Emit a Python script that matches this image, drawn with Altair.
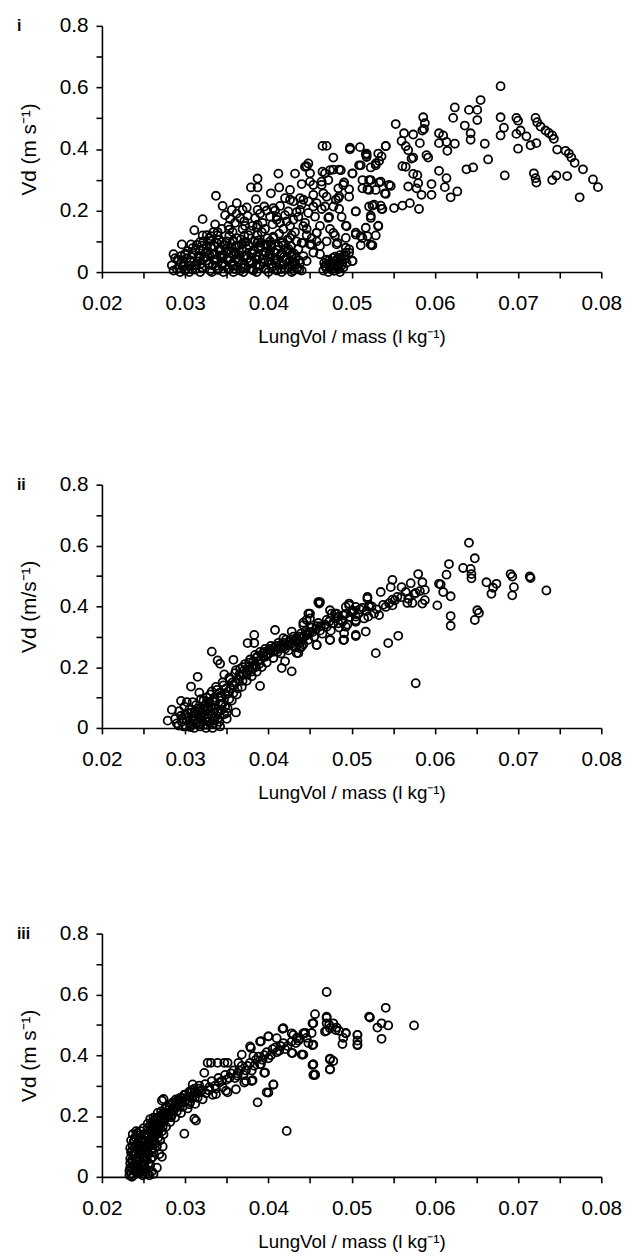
import altair as alt
import pandas as pd

# ---- data ----
panel_labels = ["i", "ii", "iii"]
y_titles = ["Vd (m s⁻¹)", "Vd (m/s⁻¹)", "Vd (m s⁻¹)"]
x_title = "LungVol / mass (l kg⁻¹)"
x_ticks = [0.02, 0.025, 0.03, 0.035, 0.04, 0.045, 0.05, 0.055, 0.06, 0.065, 0.07, 0.075, 0.08]
y_ticks = [0.0, 0.1, 0.2, 0.3, 0.4, 0.5, 0.6, 0.7, 0.8]

pts_i = [
    (0.0679, 0.604), (0.0655, 0.559), (0.0651, 0.527), (0.0651, 0.494), (0.0641, 0.527),
    (0.0624, 0.535), (0.0622, 0.501), (0.0636, 0.476), (0.0643, 0.451), (0.0643, 0.430),
    (0.0660, 0.417), (0.0664, 0.366), (0.0646, 0.340), (0.0638, 0.334), (0.0679, 0.503),
    (0.0679, 0.444), (0.0683, 0.469), (0.0684, 0.314), (0.0698, 0.501), (0.0700, 0.492),
    (0.0698, 0.449), (0.0703, 0.460), (0.0710, 0.441), (0.0715, 0.412), (0.0722, 0.419),
    (0.0700, 0.401), (0.0721, 0.501), (0.0723, 0.487), (0.0727, 0.473), (0.0733, 0.460),
    (0.0737, 0.452), (0.0741, 0.444), (0.0743, 0.433), (0.0747, 0.398), (0.0757, 0.394),
    (0.0761, 0.385), (0.0764, 0.372), (0.0768, 0.355), (0.0778, 0.334), (0.0790, 0.301),
    (0.0796, 0.276), (0.0774, 0.243), (0.0759, 0.312), (0.0746, 0.314), (0.0741, 0.299),
    (0.0719, 0.321), (0.0721, 0.305), (0.0722, 0.291), (0.0553, 0.481), (0.0563, 0.451),
    (0.0560, 0.426), (0.0565, 0.409), (0.0568, 0.396), (0.0574, 0.372), (0.0572, 0.369),
    (0.0561, 0.344), (0.0565, 0.342), (0.0574, 0.447), (0.0582, 0.419), (0.0586, 0.503),
    (0.0588, 0.484), (0.0587, 0.465), (0.0585, 0.460), (0.0590, 0.380), (0.0592, 0.372),
    (0.0574, 0.319), (0.0579, 0.315), (0.0580, 0.289), (0.0568, 0.278), (0.0578, 0.272),
    (0.0584, 0.251), (0.0596, 0.286), (0.0596, 0.251), (0.0605, 0.451), (0.0610, 0.444),
    (0.0605, 0.419), (0.0614, 0.423), (0.0624, 0.417), (0.0615, 0.394), (0.0605, 0.329),
    (0.0614, 0.305), (0.0612, 0.276), (0.0619, 0.243), (0.0627, 0.262), (0.0581, 0.205),
    (0.0570, 0.224), (0.0561, 0.216), (0.0551, 0.208), (0.0541, 0.409), (0.0536, 0.376),
    (0.0533, 0.361), (0.0529, 0.347), (0.0523, 0.340), (0.0518, 0.380), (0.0521, 0.299),
    (0.0533, 0.291), (0.0545, 0.283), (0.0541, 0.254), (0.0529, 0.267), (0.0525, 0.216),
    (0.0535, 0.216), (0.0537, 0.205), (0.0523, 0.183), (0.0532, 0.151), (0.0529, 0.119),
    (0.0524, 0.087), (0.0519, 0.117),
    (0.0465, 0.410), (0.0470, 0.410), (0.0478, 0.372), (0.0498, 0.399), (0.0510, 0.406),
    (0.0517, 0.383), (0.0518, 0.374), (0.0532, 0.385), (0.0541, 0.410), (0.0529, 0.353),
    (0.0509, 0.347), (0.0487, 0.331), (0.0478, 0.333), (0.0468, 0.321), (0.0448, 0.353),
    (0.0444, 0.342), (0.0450, 0.321), (0.0464, 0.294), (0.0454, 0.283), (0.0491, 0.291),
    (0.0501, 0.321), (0.0513, 0.299), (0.0523, 0.299), (0.0535, 0.294), (0.0547, 0.280),
    (0.0497, 0.269), (0.0519, 0.269), (0.0540, 0.256), (0.0485, 0.246), (0.0481, 0.235),
    (0.0466, 0.256), (0.0458, 0.224), (0.0442, 0.235), (0.0448, 0.192), (0.0464, 0.205),
    (0.0485, 0.205), (0.0505, 0.197), (0.0527, 0.219), (0.0536, 0.205), (0.0523, 0.176),
    (0.0532, 0.149), (0.0517, 0.144), (0.0472, 0.176), (0.0493, 0.151), (0.0458, 0.128),
    (0.0480, 0.119), (0.0505, 0.128), (0.0511, 0.117), (0.0525, 0.087), (0.0511, 0.087),
    (0.0493, 0.111), (0.0442, 0.095), (0.0452, 0.090), (0.0483, 0.095), (0.0493, 0.079),
    (0.0497, 0.063), (0.0501, 0.036), (0.0446, 0.036), (0.0462, 0.058), (0.0468, 0.020),
    (0.0472, 0.026), (0.0476, 0.031), (0.0480, 0.036), (0.0483, 0.042), (0.0487, 0.047),
    (0.0478, 0.018), (0.0482, 0.020), (0.0485, 0.026), (0.0489, 0.031), (0.0474, 0.015),
    (0.0470, 0.012), (0.0491, 0.053), (0.0493, 0.063), (0.0476, 0.008), (0.0484, 0.010),
    (0.0498, 0.404), (0.0518, 0.385), (0.0446, 0.344), (0.0465, 0.326), (0.0474, 0.331),
    (0.0485, 0.333), (0.0501, 0.320), (0.0511, 0.347), (0.0513, 0.272), (0.0521, 0.267),
    (0.0412, 0.320), (0.0432, 0.320), (0.0387, 0.304), (0.0379, 0.275), (0.0387, 0.275),
    (0.0413, 0.275), (0.0426, 0.267), (0.0440, 0.286), (0.0450, 0.294), (0.0464, 0.283),
    (0.0472, 0.299), (0.0484, 0.272), (0.0490, 0.283), (0.0497, 0.245), (0.0484, 0.240),
    (0.0470, 0.245), (0.0454, 0.251), (0.0438, 0.240), (0.0426, 0.235), (0.0403, 0.256),
    (0.0385, 0.237), (0.0362, 0.224), (0.0337, 0.248), (0.0345, 0.215), (0.0356, 0.202),
    (0.0369, 0.202), (0.0375, 0.183), (0.0387, 0.202), (0.0395, 0.213), (0.0406, 0.208),
    (0.0424, 0.197), (0.0438, 0.202), (0.0454, 0.213), (0.0468, 0.213), (0.0478, 0.213),
    (0.0505, 0.197), (0.0473, 0.179), (0.0488, 0.179), (0.0521, 0.213), (0.0354, 0.172),
    (0.0321, 0.172), (0.0311, 0.136), (0.0321, 0.119), (0.0339, 0.130), (0.0353, 0.138),
    (0.0371, 0.165), (0.0387, 0.154), (0.0410, 0.170), (0.0430, 0.170), (0.0442, 0.149),
    (0.0458, 0.127), (0.0478, 0.127), (0.0494, 0.149), (0.0505, 0.122), (0.0513, 0.111),
    (0.0523, 0.090), (0.0296, 0.090), (0.0307, 0.090), (0.0286, 0.058), (0.0284, 0.022),
    (0.0295, 0.052), (0.0331, 0.117), (0.0367, 0.106), (0.0387, 0.095), (0.0406, 0.111),
    (0.0426, 0.111), (0.0440, 0.095), (0.0450, 0.090), (0.0462, 0.085), (0.0482, 0.090),
    (0.0497, 0.074), (0.0501, 0.036), (0.0454, 0.063), (0.0442, 0.052), (0.0426, 0.063),
    (0.0290, 0.010), (0.0295, 0.030), (0.0300, 0.005), (0.0302, 0.045), (0.0305, 0.020),
    (0.0310, 0.060), (0.0312, 0.008), (0.0315, 0.035), (0.0318, 0.070), (0.0320, 0.015),
    (0.0323, 0.050), (0.0326, 0.085), (0.0328, 0.025), (0.0330, 0.005), (0.0332, 0.060),
    (0.0335, 0.040), (0.0338, 0.095), (0.0340, 0.012), (0.0342, 0.075), (0.0345, 0.030),
    (0.0347, 0.055), (0.0350, 0.100), (0.0352, 0.008), (0.0354, 0.045), (0.0356, 0.080),
    (0.0358, 0.020), (0.0360, 0.065), (0.0362, 0.110), (0.0364, 0.035), (0.0366, 0.005),
    (0.0368, 0.090), (0.0370, 0.050), (0.0372, 0.015), (0.0374, 0.075), (0.0376, 0.120),
    (0.0378, 0.030), (0.0380, 0.060), (0.0382, 0.005), (0.0384, 0.100), (0.0386, 0.040),
    (0.0388, 0.080), (0.0390, 0.020), (0.0392, 0.130), (0.0394, 0.055), (0.0396, 0.010),
    (0.0398, 0.090), (0.0400, 0.035), (0.0402, 0.070), (0.0404, 0.015), (0.0406, 0.115),
    (0.0408, 0.045), (0.0410, 0.005), (0.0412, 0.085), (0.0414, 0.025), (0.0416, 0.060),
    (0.0418, 0.140), (0.0420, 0.010), (0.0422, 0.040), (0.0424, 0.075), (0.0426, 0.020),
    (0.0428, 0.050), (0.0430, 0.005), (0.0432, 0.030), (0.0435, 0.015), (0.0337, 0.020),
    (0.0349, 0.068), (0.0361, 0.042), (0.0373, 0.098), (0.0385, 0.022), (0.0397, 0.062),
    (0.0409, 0.028), (0.0357, 0.130), (0.0369, 0.140), (0.0381, 0.150), (0.0393, 0.160),
    (0.0405, 0.155), (0.0353, 0.118), (0.0341, 0.105), (0.0329, 0.110),
    (0.0292, 0.038), (0.0297, 0.018), (0.0303, 0.068), (0.0307, 0.032), (0.0311, 0.022),
    (0.0314, 0.088), (0.0317, 0.048), (0.0319, 0.028), (0.0322, 0.100), (0.0325, 0.065),
    (0.0327, 0.038), (0.0331, 0.082), (0.0333, 0.022), (0.0336, 0.058), (0.0339, 0.120),
    (0.0343, 0.045), (0.0346, 0.088), (0.0348, 0.020), (0.0351, 0.038), (0.0355, 0.062),
    (0.0357, 0.100), (0.0359, 0.010), (0.0363, 0.085), (0.0365, 0.055), (0.0367, 0.025),
    (0.0371, 0.118), (0.0375, 0.045), (0.0377, 0.085), (0.0379, 0.010), (0.0383, 0.070),
    (0.0387, 0.120), (0.0389, 0.050), (0.0391, 0.095), (0.0395, 0.030), (0.0399, 0.110),
    (0.0401, 0.050), (0.0403, 0.090), (0.0407, 0.065), (0.0411, 0.040), (0.0413, 0.125),
    (0.0415, 0.010), (0.0417, 0.095), (0.0419, 0.050), (0.0421, 0.075), (0.0423, 0.105),
    (0.0425, 0.035), (0.0427, 0.085), (0.0429, 0.020), (0.0431, 0.060), (0.0433, 0.045),
    (0.0436, 0.075), (0.0438, 0.030), (0.0440, 0.005), (0.0344, 0.140), (0.0352, 0.150),
    (0.0360, 0.160), (0.0366, 0.175), (0.0372, 0.150), (0.0378, 0.135), (0.0384, 0.175),
    (0.0390, 0.190), (0.0396, 0.140), (0.0402, 0.180), (0.0408, 0.200), (0.0414, 0.160),
    (0.0420, 0.185), (0.0426, 0.150), (0.0432, 0.130), (0.0414, 0.215), (0.0420, 0.240),
    (0.0430, 0.230), (0.0436, 0.180), (0.0444, 0.160), (0.0446, 0.120), (0.0448, 0.230),
    (0.0456, 0.180), (0.0462, 0.150), (0.0470, 0.100), (0.0474, 0.140), (0.0334, 0.130),
    (0.0326, 0.120), (0.0318, 0.098), (0.0309, 0.078), (0.0300, 0.060), (0.0288, 0.045),
    (0.0286, 0.005), (0.0294, 0.000), (0.0305, 0.000), (0.0318, 0.000), (0.0332, 0.000),
    (0.0346, 0.000), (0.0358, 0.000), (0.0370, 0.000), (0.0386, 0.000), (0.0400, 0.000),
    (0.0416, 0.000), (0.0428, 0.000), (0.0437, 0.008), (0.0466, 0.005), (0.0472, 0.000),
    (0.0479, 0.004), (0.0486, 0.000), (0.0490, 0.015), (0.0494, 0.030), (0.0488, 0.040),
    (0.0481, 0.028), (0.0473, 0.038), (0.0467, 0.030),
    (0.0293, 0.012), (0.0308, 0.009), (0.0321, 0.013), (0.0339, 0.007), (0.0353, 0.011),
    (0.0369, 0.014), (0.0381, 0.008), (0.0397, 0.012), (0.0411, 0.009), (0.0424, 0.013),
    (0.0434, 0.010), (0.0298, 0.026), (0.0313, 0.023), (0.0329, 0.027), (0.0344, 0.024),
    (0.0357, 0.028), (0.0371, 0.025), (0.0389, 0.022), (0.0403, 0.027), (0.0418, 0.024),
    (0.0431, 0.026), (0.0291, 0.041), (0.0306, 0.038), (0.0322, 0.042), (0.0338, 0.039),
    (0.0350, 0.043), (0.0365, 0.040), (0.0379, 0.037), (0.0393, 0.042), (0.0407, 0.039),
    (0.0420, 0.041), (0.0437, 0.038), (0.0300, 0.056), (0.0316, 0.053), (0.0329, 0.057),
    (0.0343, 0.054), (0.0358, 0.058), (0.0373, 0.055), (0.0386, 0.052), (0.0401, 0.057),
    (0.0414, 0.054), (0.0428, 0.056), (0.0312, 0.071), (0.0327, 0.068), (0.0341, 0.072),
    (0.0353, 0.069), (0.0368, 0.073), (0.0382, 0.070), (0.0396, 0.067), (0.0410, 0.072),
    (0.0423, 0.069), (0.0320, 0.086), (0.0335, 0.083), (0.0348, 0.087), (0.0361, 0.084),
    (0.0376, 0.088), (0.0390, 0.085), (0.0404, 0.082), (0.0418, 0.087), (0.0330, 0.101),
    (0.0344, 0.098), (0.0358, 0.102), (0.0372, 0.099), (0.0388, 0.103), (0.0402, 0.100),
    (0.0416, 0.097), (0.0469, 0.018), (0.0475, 0.022), (0.0483, 0.015), (0.0488, 0.022),
    (0.0477, 0.045), (0.0470, 0.040), (0.0492, 0.042), (0.0486, 0.055), (0.0480, 0.050),
    (0.0336, 0.155), (0.0348, 0.185), (0.0362, 0.190), (0.0374, 0.210), (0.0386, 0.145),
    (0.0398, 0.200), (0.0410, 0.180), (0.0422, 0.165), (0.0434, 0.195), (0.0440, 0.220),
    (0.0428, 0.120), (0.0446, 0.140), (0.0452, 0.110), (0.0458, 0.100), (0.0434, 0.100),
]

pts_ii = [
    (0.0641, 0.609), (0.0648, 0.558), (0.0617, 0.539), (0.0614, 0.504), (0.0634, 0.526),
    (0.0643, 0.523), (0.0644, 0.506), (0.0644, 0.492), (0.0662, 0.479), (0.0674, 0.474),
    (0.0670, 0.461), (0.0668, 0.441), (0.0691, 0.506), (0.0693, 0.498), (0.0695, 0.463),
    (0.0693, 0.436), (0.0714, 0.498), (0.0715, 0.493), (0.0734, 0.452), (0.0651, 0.387),
    (0.0653, 0.378), (0.0648, 0.355), (0.0619, 0.433), (0.0619, 0.368), (0.0619, 0.336),
    (0.0603, 0.403), (0.0607, 0.472), (0.0605, 0.474), (0.0610, 0.447), (0.0580, 0.506),
    (0.0585, 0.479), (0.0588, 0.454), (0.0588, 0.420), (0.0585, 0.409), (0.0577, 0.444),
    (0.0573, 0.411), (0.0571, 0.476), (0.0565, 0.447), (0.0567, 0.411), (0.0560, 0.463),
    (0.0555, 0.431), (0.0549, 0.487), (0.0547, 0.463), (0.0549, 0.422), (0.0549, 0.403),
    (0.0535, 0.447), (0.0541, 0.398), (0.0533, 0.371), (0.0527, 0.376), (0.0521, 0.403),
    (0.0519, 0.431), (0.0520, 0.366), (0.0517, 0.317), (0.0505, 0.398), (0.0505, 0.366),
    (0.0505, 0.349), (0.0505, 0.306), (0.0497, 0.409), (0.0493, 0.398), (0.0501, 0.382),
    (0.0491, 0.311), (0.0491, 0.290), (0.0489, 0.349), (0.0482, 0.376), (0.0476, 0.376),
    (0.0478, 0.344), (0.0474, 0.290), (0.0470, 0.333), (0.0461, 0.409), (0.0460, 0.414),
    (0.0458, 0.327), (0.0458, 0.273), (0.0450, 0.376), (0.0446, 0.355), (0.0442, 0.346),
    (0.0442, 0.300), (0.0440, 0.268), (0.0436, 0.246), (0.0529, 0.246), (0.0544, 0.279),
    (0.0556, 0.303), (0.0577, 0.147),
    (0.0462, 0.414), (0.0408, 0.322), (0.0383, 0.306), (0.0375, 0.279), (0.0383, 0.279),
    (0.0428, 0.317), (0.0418, 0.295), (0.0416, 0.197), (0.0428, 0.186), (0.0420, 0.219),
    (0.0332, 0.251), (0.0339, 0.222), (0.0342, 0.211), (0.0358, 0.224), (0.0315, 0.168),
    (0.0307, 0.136), (0.0317, 0.116), (0.0295, 0.089), (0.0284, 0.060), (0.0279, 0.024),
    (0.0361, 0.051), (0.0390, 0.138), (0.0347, 0.176), (0.0442, 0.338), (0.0448, 0.376),
    (0.0450, 0.360), (0.0474, 0.387), (0.0480, 0.376), (0.0484, 0.344), (0.0490, 0.289),
    (0.0474, 0.289), (0.0505, 0.302), (0.0519, 0.425), (0.0521, 0.398), (0.0497, 0.403),
    (0.0505, 0.354), (0.0493, 0.333), (0.0458, 0.273), (0.0438, 0.262), (0.0434, 0.246),
    (0.0290, 0.015), (0.0295, 0.040), (0.0298, 0.005), (0.0302, 0.025), (0.0305, 0.060),
    (0.0308, 0.010), (0.0310, 0.040), (0.0313, 0.075), (0.0315, 0.020), (0.0318, 0.005),
    (0.0320, 0.050), (0.0322, 0.090), (0.0324, 0.030), (0.0326, 0.010), (0.0328, 0.065),
    (0.0330, 0.110), (0.0332, 0.040), (0.0334, 0.015), (0.0336, 0.085), (0.0338, 0.125),
    (0.0340, 0.055), (0.0342, 0.005), (0.0344, 0.100), (0.0346, 0.140), (0.0348, 0.070),
    (0.0350, 0.030), (0.0352, 0.120), (0.0354, 0.160), (0.0356, 0.090), (0.0358, 0.140),
    (0.0360, 0.180), (0.0362, 0.110), (0.0364, 0.160), (0.0366, 0.195), (0.0368, 0.135),
    (0.0370, 0.175), (0.0372, 0.210), (0.0374, 0.155), (0.0376, 0.190), (0.0378, 0.225),
    (0.0380, 0.170), (0.0382, 0.205), (0.0384, 0.240), (0.0386, 0.185), (0.0388, 0.220),
    (0.0390, 0.250), (0.0392, 0.200), (0.0394, 0.235), (0.0396, 0.260), (0.0398, 0.215),
    (0.0400, 0.245), (0.0403, 0.270), (0.0406, 0.230), (0.0409, 0.255), (0.0412, 0.280),
    (0.0415, 0.245), (0.0418, 0.265), (0.0421, 0.290), (0.0424, 0.255), (0.0427, 0.275),
    (0.0430, 0.300), (0.0433, 0.265), (0.0436, 0.285), (0.0439, 0.310), (0.0442, 0.275),
    (0.0445, 0.320), (0.0448, 0.290), (0.0452, 0.330), (0.0455, 0.300), (0.0460, 0.345),
    (0.0465, 0.310), (0.0470, 0.355), (0.0475, 0.320), (0.0480, 0.360), (0.0485, 0.330),
    (0.0490, 0.370), (0.0495, 0.340), (0.0500, 0.380), (0.0510, 0.390), (0.0515, 0.360),
    (0.0300, 0.045), (0.0306, 0.015), (0.0312, 0.055), (0.0316, 0.035), (0.0321, 0.020),
    (0.0327, 0.045), (0.0331, 0.070), (0.0335, 0.025), (0.0339, 0.050), (0.0343, 0.080),
    (0.0347, 0.045), (0.0351, 0.065), (0.0333, 0.000), (0.0325, 0.000), (0.0341, 0.020),
    (0.0288, 0.030), (0.0293, 0.055), (0.0296, 0.020), (0.0299, 0.070), (0.0301, 0.005),
    (0.0304, 0.035), (0.0307, 0.050), (0.0309, 0.085), (0.0311, 0.000), (0.0314, 0.045),
    (0.0317, 0.060), (0.0319, 0.095), (0.0323, 0.070), (0.0326, 0.100), (0.0329, 0.085),
    (0.0332, 0.120), (0.0335, 0.100), (0.0337, 0.135), (0.0341, 0.115), (0.0345, 0.150),
    (0.0349, 0.130), (0.0353, 0.165), (0.0357, 0.150), (0.0361, 0.190), (0.0365, 0.175),
    (0.0369, 0.200), (0.0373, 0.185), (0.0377, 0.215), (0.0381, 0.195), (0.0385, 0.230),
    (0.0389, 0.210), (0.0393, 0.245), (0.0397, 0.235), (0.0401, 0.260), (0.0405, 0.250),
    (0.0410, 0.270), (0.0414, 0.262), (0.0419, 0.280), (0.0423, 0.272), (0.0428, 0.290),
    (0.0432, 0.285), (0.0437, 0.300), (0.0441, 0.295), (0.0446, 0.305), (0.0450, 0.315),
    (0.0457, 0.325), (0.0463, 0.335), (0.0468, 0.340), (0.0473, 0.350), (0.0478, 0.345),
    (0.0483, 0.365), (0.0488, 0.355), (0.0493, 0.375), (0.0498, 0.365), (0.0503, 0.385),
    (0.0508, 0.375), (0.0513, 0.395), (0.0518, 0.385), (0.0524, 0.400), (0.0530, 0.390),
    (0.0538, 0.405), (0.0545, 0.410), (0.0552, 0.420), (0.0560, 0.430), (0.0568, 0.425),
    (0.0575, 0.440), (0.0582, 0.450), (0.0320, 0.035), (0.0328, 0.020), (0.0336, 0.035),
    (0.0344, 0.060), (0.0338, 0.010), (0.0312, 0.025), (0.0302, 0.085), (0.0324, 0.060),
    (0.0334, 0.050),
    (0.0292, 0.008), (0.0297, 0.028), (0.0303, 0.048), (0.0306, 0.003), (0.0309, 0.025),
    (0.0313, 0.012), (0.0316, 0.065), (0.0319, 0.040), (0.0322, 0.010), (0.0325, 0.080),
    (0.0327, 0.030), (0.0330, 0.055), (0.0333, 0.090), (0.0336, 0.065), (0.0339, 0.030),
    (0.0342, 0.105), (0.0345, 0.080), (0.0348, 0.110), (0.0350, 0.050), (0.0353, 0.095),
    (0.0355, 0.130), (0.0358, 0.115), (0.0361, 0.150), (0.0363, 0.130), (0.0366, 0.170),
    (0.0369, 0.155), (0.0371, 0.190), (0.0374, 0.175), (0.0377, 0.200), (0.0379, 0.185),
    (0.0382, 0.220), (0.0385, 0.200), (0.0387, 0.235), (0.0391, 0.225), (0.0395, 0.250),
    (0.0399, 0.240), (0.0403, 0.255), (0.0407, 0.265), (0.0411, 0.250), (0.0416, 0.275),
    (0.0420, 0.260), (0.0425, 0.285), (0.0429, 0.270), (0.0434, 0.295), (0.0438, 0.280),
    (0.0443, 0.300), (0.0447, 0.310), (0.0453, 0.315), (0.0458, 0.335), (0.0462, 0.320),
]

pts_iii = [
    (0.0470, 0.608), (0.0541, 0.556), (0.0522, 0.524), (0.0456, 0.535), (0.0453, 0.505),
    (0.0470, 0.527), (0.0470, 0.505), (0.0468, 0.478), (0.0474, 0.489), (0.0478, 0.505),
    (0.0482, 0.491), (0.0485, 0.480), (0.0493, 0.473), (0.0490, 0.457), (0.0489, 0.437),
    (0.0507, 0.467), (0.0507, 0.448), (0.0507, 0.433), (0.0531, 0.491), (0.0536, 0.505),
    (0.0544, 0.498), (0.0536, 0.454), (0.0575, 0.498), (0.0444, 0.473), (0.0446, 0.457),
    (0.0434, 0.457), (0.0440, 0.402), (0.0453, 0.433), (0.0448, 0.440), (0.0453, 0.368),
    (0.0456, 0.335), (0.0474, 0.389), (0.0478, 0.381), (0.0474, 0.354),
    (0.0454, 0.505), (0.0452, 0.473), (0.0454, 0.370), (0.0454, 0.335), (0.0442, 0.402),
    (0.0418, 0.489), (0.0430, 0.467), (0.0444, 0.473), (0.0436, 0.448), (0.0428, 0.408),
    (0.0422, 0.151), (0.0406, 0.303), (0.0398, 0.278), (0.0387, 0.245), (0.0396, 0.343),
    (0.0391, 0.370), (0.0400, 0.462), (0.0391, 0.446), (0.0379, 0.424), (0.0381, 0.318),
    (0.0371, 0.310), (0.0363, 0.332), (0.0351, 0.278), (0.0347, 0.375), (0.0339, 0.375),
    (0.0327, 0.375), (0.0299, 0.142), (0.0313, 0.185), (0.0272, 0.251), (0.0272, 0.066),
    (0.0242, 0.137), (0.0260, 0.018),
    (0.0470, 0.523), (0.0470, 0.480), (0.0473, 0.500), (0.0481, 0.483), (0.0493, 0.472),
    (0.0507, 0.467), (0.0507, 0.435), (0.0521, 0.527), (0.0417, 0.487), (0.0428, 0.472),
    (0.0442, 0.472), (0.0454, 0.435), (0.0441, 0.402), (0.0474, 0.386), (0.0474, 0.353),
    (0.0454, 0.370), (0.0456, 0.337), (0.0400, 0.277), (0.0406, 0.304), (0.0395, 0.342),
    (0.0429, 0.407), (0.0410, 0.456), (0.0400, 0.462), (0.0390, 0.445), (0.0378, 0.429),
    (0.0382, 0.397), (0.0368, 0.402), (0.0364, 0.375), (0.0351, 0.375), (0.0331, 0.375),
    (0.0323, 0.342), (0.0349, 0.283), (0.0361, 0.288), (0.0373, 0.315), (0.0380, 0.315),
    (0.0337, 0.272), (0.0309, 0.304), (0.0307, 0.277), (0.0305, 0.239), (0.0311, 0.191),
    (0.0274, 0.256), (0.0283, 0.196), (0.0291, 0.250),
    (0.0235, 0.010), (0.0236, 0.030), (0.0237, 0.050), (0.0238, 0.005), (0.0239, 0.070),
    (0.0240, 0.020), (0.0241, 0.040), (0.0242, 0.090), (0.0243, 0.012), (0.0244, 0.060),
    (0.0245, 0.030), (0.0246, 0.105), (0.0247, 0.080), (0.0248, 0.045), (0.0249, 0.005),
    (0.0250, 0.120), (0.0251, 0.065), (0.0252, 0.095), (0.0253, 0.025), (0.0254, 0.135),
    (0.0255, 0.110), (0.0256, 0.075), (0.0257, 0.150), (0.0258, 0.040), (0.0259, 0.125),
    (0.0260, 0.160), (0.0261, 0.095), (0.0262, 0.140), (0.0263, 0.175), (0.0264, 0.110),
    (0.0265, 0.155), (0.0266, 0.185), (0.0268, 0.130), (0.0269, 0.170), (0.0270, 0.200),
    (0.0272, 0.150), (0.0273, 0.185), (0.0275, 0.210), (0.0277, 0.165), (0.0278, 0.195),
    (0.0280, 0.220), (0.0282, 0.180), (0.0284, 0.205), (0.0286, 0.230), (0.0288, 0.195),
    (0.0290, 0.215), (0.0292, 0.240), (0.0295, 0.210), (0.0297, 0.230), (0.0300, 0.250),
    (0.0303, 0.225), (0.0306, 0.245), (0.0309, 0.265), (0.0312, 0.240), (0.0315, 0.260),
    (0.0318, 0.280), (0.0321, 0.255), (0.0325, 0.275), (0.0329, 0.295), (0.0333, 0.270),
    (0.0337, 0.290), (0.0341, 0.310), (0.0345, 0.295), (0.0350, 0.320), (0.0355, 0.340),
    (0.0360, 0.325), (0.0365, 0.350), (0.0370, 0.335), (0.0375, 0.365), (0.0380, 0.350),
    (0.0385, 0.385), (0.0390, 0.370), (0.0395, 0.400), (0.0400, 0.390), (0.0405, 0.420),
    (0.0410, 0.410), (0.0415, 0.430), (0.0420, 0.420),
    (0.0234, 0.045), (0.0236, 0.085), (0.0238, 0.115), (0.0240, 0.130), (0.0243, 0.145),
    (0.0247, 0.020), (0.0251, 0.040), (0.0255, 0.010), (0.0259, 0.060), (0.0262, 0.080),
    (0.0266, 0.100), (0.0270, 0.120), (0.0274, 0.140),
    (0.0233, 0.020), (0.0234, 0.060), (0.0235, 0.080), (0.0236, 0.000), (0.0237, 0.100),
    (0.0238, 0.035), (0.0239, 0.120), (0.0240, 0.055), (0.0241, 0.075), (0.0242, 0.025),
    (0.0243, 0.110), (0.0244, 0.085), (0.0245, 0.050), (0.0246, 0.015), (0.0247, 0.125),
    (0.0248, 0.100), (0.0249, 0.070), (0.0250, 0.035), (0.0251, 0.140), (0.0252, 0.115),
    (0.0253, 0.085), (0.0254, 0.055), (0.0255, 0.160), (0.0256, 0.130), (0.0257, 0.100),
    (0.0258, 0.170), (0.0259, 0.145), (0.0260, 0.110), (0.0261, 0.180), (0.0262, 0.160),
    (0.0263, 0.130), (0.0264, 0.190), (0.0265, 0.170), (0.0267, 0.195), (0.0268, 0.150),
    (0.0270, 0.185), (0.0271, 0.215), (0.0273, 0.165), (0.0275, 0.195), (0.0276, 0.225),
    (0.0279, 0.205), (0.0281, 0.235), (0.0283, 0.215), (0.0285, 0.245), (0.0287, 0.225),
    (0.0289, 0.255), (0.0291, 0.230), (0.0294, 0.260), (0.0296, 0.245), (0.0299, 0.270),
    (0.0302, 0.255), (0.0305, 0.280), (0.0308, 0.260), (0.0311, 0.290), (0.0314, 0.275),
    (0.0317, 0.300), (0.0320, 0.285), (0.0324, 0.305), (0.0328, 0.285), (0.0332, 0.315),
    (0.0336, 0.300), (0.0340, 0.325), (0.0344, 0.315), (0.0348, 0.335), (0.0353, 0.325),
    (0.0358, 0.350), (0.0363, 0.340), (0.0368, 0.365), (0.0373, 0.350), (0.0378, 0.375),
    (0.0383, 0.365), (0.0388, 0.395), (0.0393, 0.385), (0.0398, 0.410), (0.0403, 0.400),
    (0.0408, 0.425), (0.0413, 0.415), (0.0418, 0.440), (0.0423, 0.430), (0.0428, 0.445),
    (0.0433, 0.440), (0.0438, 0.455), (0.0266, 0.030), (0.0262, 0.010), (0.0257, 0.005),
    (0.0269, 0.075), (0.0273, 0.100),
    (0.0233, 0.005), (0.0234, 0.030), (0.0234, 0.095), (0.0235, 0.120), (0.0236, 0.055),
    (0.0237, 0.140), (0.0238, 0.075), (0.0239, 0.020), (0.0240, 0.100), (0.0241, 0.150),
    (0.0242, 0.060), (0.0243, 0.035), (0.0244, 0.125), (0.0245, 0.095), (0.0246, 0.070),
    (0.0247, 0.150), (0.0248, 0.025), (0.0249, 0.115), (0.0250, 0.085), (0.0250, 0.160),
    (0.0251, 0.010), (0.0252, 0.135), (0.0253, 0.060), (0.0254, 0.100), (0.0255, 0.175),
    (0.0256, 0.045), (0.0257, 0.120), (0.0258, 0.190), (0.0259, 0.090), (0.0260, 0.140),
    (0.0261, 0.065), (0.0262, 0.195), (0.0263, 0.115), (0.0264, 0.160), (0.0266, 0.140),
    (0.0267, 0.210), (0.0268, 0.175), (0.0270, 0.160), (0.0272, 0.205), (0.0274, 0.180),
    (0.0276, 0.205), (0.0278, 0.230), (0.0280, 0.200), (0.0283, 0.240), (0.0286, 0.215),
    (0.0289, 0.240), (0.0292, 0.255), (0.0296, 0.260), (0.0300, 0.270), (0.0304, 0.265),
    (0.0308, 0.285), (0.0312, 0.280), (0.0316, 0.290),
]

FONT = "Liberation Sans"
LABEL_FS = 21


def panel(points, label, ytitle, height):
    df = pd.DataFrame(points, columns=["x", "y"])
    x_axis = alt.Axis(
        values=x_ticks, title=x_title,
        labelExpr="round(datum.value*1000) % 10 == 0 ? format(datum.value, '.2f') : ''",
        labelOverlap=False, labelFlush=False, grid=False,
        tickSize=6, labelPadding=15, titlePadding=14, titleFontSize=19,
    )
    y_axis = alt.Axis(
        values=y_ticks, title=ytitle,
        labelExpr="round(datum.value*10) % 2 == 0 ? (datum.value == 0 ? '0' : format(datum.value, '.1f')) : ''",
        labelOverlap=False, labelFlush=False, grid=False,
        tickSize=6, labelPadding=8, titlePadding=20, titleFontSize=21,
    )
    return alt.Chart(df).mark_point(
        shape="circle", filled=False, color="black", size=66, strokeWidth=1.8, opacity=1
    ).encode(
        x=alt.X("x:Q", scale=alt.Scale(domain=[0.02, 0.08], nice=False, zero=False), axis=x_axis),
        y=alt.Y("y:Q", scale=alt.Scale(domain=[0, 0.8], nice=False), axis=y_axis),
    ).properties(
        width=505, height=height,
        title=alt.TitleParams(
            text=label, anchor="start", frame="group", dx=-86, dy=23,
            font=FONT, fontSize=16, fontWeight="bold", color="black",
        ),
    )


top_pair = alt.vconcat(
    panel(pts_i, panel_labels[0], y_titles[0], 249),
    panel(pts_ii, panel_labels[1], y_titles[1], 246),
    spacing=129,
)
chart = alt.vconcat(
    top_pair,
    panel(pts_iii, panel_labels[2], y_titles[2], 246),
    spacing=122,
).properties(
    padding={"left": 9, "top": 0, "right": 5, "bottom": 0}
).configure_view(stroke=None).configure_axis(
    domainColor="black", domainWidth=1.6, tickColor="black", tickWidth=1.6,
    labelFont=FONT, labelFontSize=LABEL_FS, labelColor="black",
    titleFont=FONT, titleFontWeight="normal", titleColor="black",
).configure_title(font=FONT)

chart.save("out.html", embed_options={"renderer": "svg", "actions": False})
